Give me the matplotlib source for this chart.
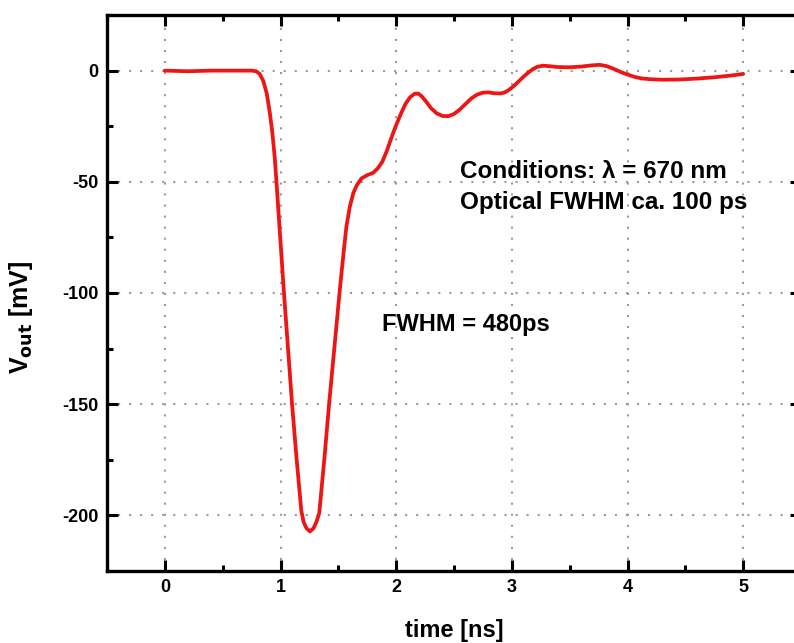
import matplotlib
matplotlib.use("Agg")
import matplotlib.pyplot as plt
from matplotlib.ticker import MultipleLocator

time_ns = [0.0, 0.2, 0.4, 0.6, 0.75, 0.79, 0.82, 0.85, 0.88, 0.905, 0.93, 0.95, 0.965,
           1.0, 1.03, 1.065, 1.10, 1.14, 1.18, 1.20, 1.225, 1.255, 1.285, 1.31, 1.335,
           1.38, 1.42, 1.465, 1.51, 1.545, 1.57, 1.60, 1.63, 1.66, 1.70, 1.75, 1.80,
           1.84, 1.88, 1.92, 1.96, 2.00, 2.04, 2.08, 2.12, 2.16, 2.19, 2.22, 2.26,
           2.30, 2.35, 2.40, 2.45, 2.50, 2.55, 2.60, 2.65, 2.70, 2.75, 2.80, 2.85,
           2.90, 2.94, 2.98, 3.02, 3.06, 3.10, 3.14, 3.18, 3.22, 3.27, 3.32, 3.40,
           3.50, 3.60, 3.68, 3.76, 3.82, 3.88, 3.94, 4.00, 4.06, 4.12, 4.20, 4.30,
           4.45, 4.60, 4.75, 4.90, 5.0]
v_out_mV = [0.0, -0.3, 0.0, 0.0, 0.0, -0.3, -1.5, -4.5, -10, -18, -28, -39, -50,
            -77, -100, -125, -150, -175, -198, -203, -205.8, -207.2, -205.8, -203, -199,
            -174, -150, -125, -100, -82, -70, -61, -55, -51.5, -48.5, -47, -46,
            -44, -41, -36, -30, -24.5, -19.5, -15, -12, -10.4, -10.3, -11.5, -14,
            -16.8, -19.2, -20.4, -20.5, -19.5, -17.5, -15, -12.5, -10.8, -9.9, -9.8, -10.2,
            -10.3, -9.8, -8.5, -6.8, -4.8, -2.8, -1.0, 0.6, 1.7, 2.2, 2.0, 1.6,
            1.5, 1.8, 2.3, 2.6, 2.0, 0.8, -0.6, -1.8, -2.8, -3.5, -3.9, -4.1,
            -4.0, -3.6, -3.0, -2.2, -1.5]

x_ticks = [0, 1, 2, 3, 4, 5]
y_ticks = [0, -50, -100, -150, -200]

plt.rcParams['font.family'] = ['Liberation Sans', 'DejaVu Sans']
plt.rcParams['font.weight'] = 'bold'
plt.rcParams['axes.unicode_minus'] = False

fig = plt.figure(figsize=(7.94, 6.43), dpi=100)
ax = fig.add_axes([107/794, 1-571/643, 694/794, 556/643])

ax.plot(time_ns, v_out_mV, color='#ee1515', lw=2.7, solid_joinstyle='round',
        solid_capstyle='round')

ax.set_xlim(-0.5, 5.5)
ax.set_ylim(-225, 25)
ax.set_xticks(x_ticks)
ax.set_yticks(y_ticks)
ax.xaxis.set_minor_locator(MultipleLocator(0.5))
ax.yaxis.set_minor_locator(MultipleLocator(25))
ax.tick_params(which='major', direction='in', length=8, width=2.2,
               top=True, right=True, labelsize=13, pad=6)
ax.tick_params(which='minor', direction='in', length=4.5, width=2.2,
               top=True, right=True)
for lab in ax.get_xticklabels() + ax.get_yticklabels():
    lab.set_fontweight('bold')
for s in ax.spines.values():
    s.set_linewidth(2.4)

ax.grid(True, which='major', color='#9a9a9a', linestyle=(0, (1, 4.3)), lw=1.5)
ax.set_axisbelow(True)

ax.set_xlabel('time [ns]', fontsize=17, fontweight='bold')
ax.xaxis.set_label_coords(0.5, -0.087)
ax.set_ylabel(r'V$_{\mathbf{out}}$ [mV]', fontsize=18, fontweight='bold')
ax.yaxis.set_label_coords(-0.104, 0.457)

ax.text(2.55, -52.5, u'Conditions: \u03bb = 670 nm\nOptical FWHM ca. 100 ps',
        fontsize=17.5, fontweight='bold', ha='left', va='center', linespacing=1.45)
ax.text(1.88, -114, 'FWHM = 480ps', fontsize=17, fontweight='bold', ha='left', va='center')

fig.savefig('out.png', dpi=100)
